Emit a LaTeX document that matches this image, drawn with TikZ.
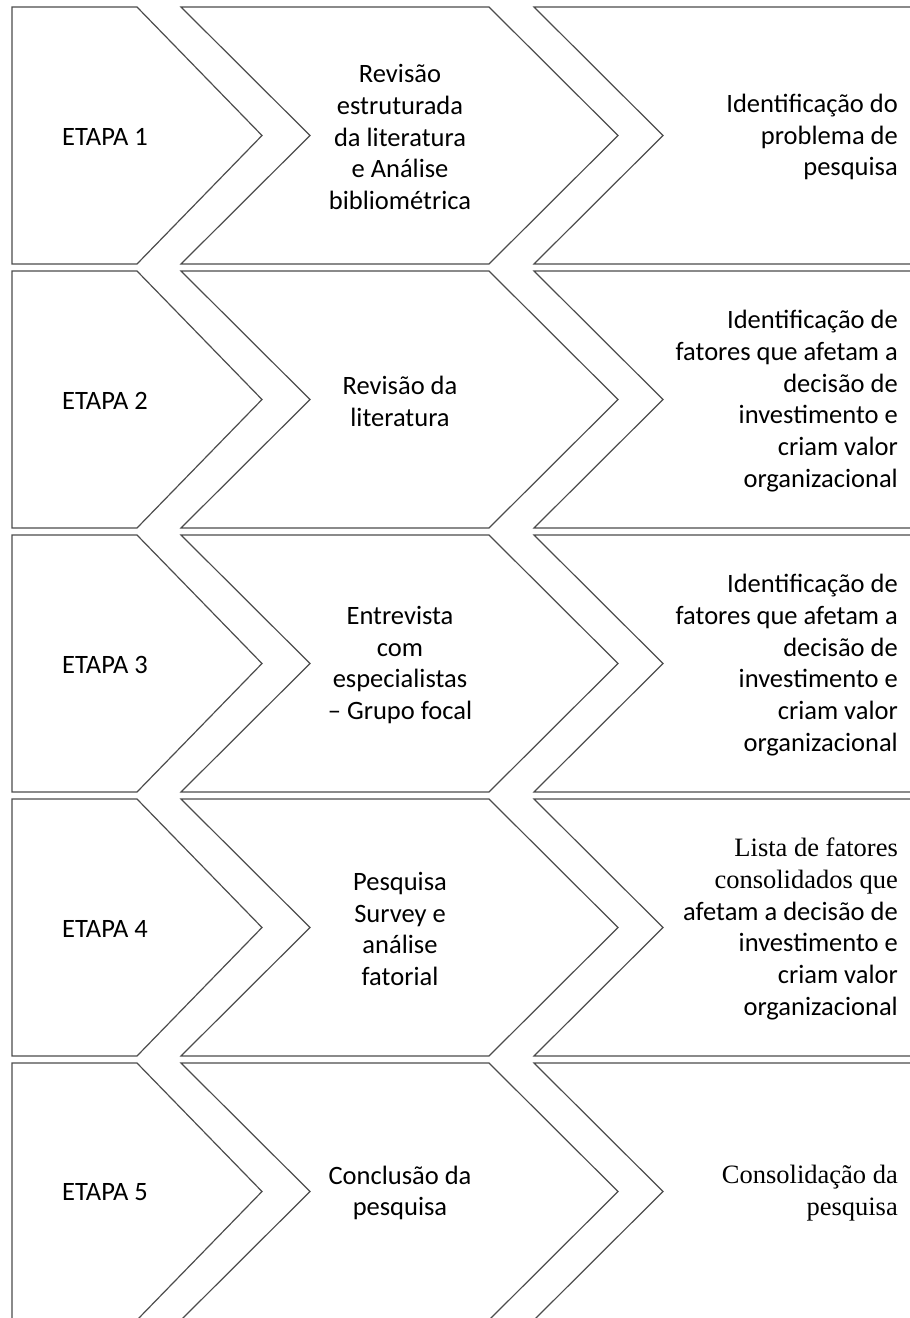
\documentclass[tikz,border=0pt]{standalone}
\usepackage{fontspec}
\setmainfont{Carlito}
\newfontfamily\timesfont{Liberation Serif}

\begin{document}
\begin{tikzpicture}[x=1pt, y=-1pt,
    chevron/.style={draw=black!70, line width=1.2pt, line join=miter},
    steptext/.style={inner sep=0pt, text=black, font=\fontsize{26.5}{31.8}\selectfont}]
    \useasboundingbox (0,0) rectangle (910,1318);
    \clip (0,0) rectangle (910,1318);

    % Chevrons of each step (top T, middle M, bottom B)
    \foreach \r in {1,...,5} {
        \pgfmathsetmacro{\T}{7+264*(\r-1)}
        \pgfmathsetmacro{\M}{\T+128.5}
        \pgfmathsetmacro{\B}{\T+257}
        \draw[chevron] (12,\T) -- (137,\T) -- (262,\M) -- (137,\B) -- (12,\B) -- cycle;
        \draw[chevron] (181,\T) -- (489,\T) -- (618,\M) -- (489,\B) -- (181,\B) -- (310,\M) -- cycle;
        \draw[chevron] (534,\T) -- (930,\T) -- (930,\B) -- (534,\B) -- (663,\M) -- cycle;
        \node[steptext] (etapa\r) at (105,\M+1) {ETAPA \r};
    }

    % Actions
    \node[steptext, align=center] (acao1) at (400,137) {Revisão\\estruturada\\da literatura\\e Análise\\bibliométrica};
    \node[steptext, align=center] (acao2) at (400,401) {Revisão da\\literatura};
    \node[steptext, align=center] (acao3) at (400,665) {Entrevista\\com\\especialistas\\– Grupo focal};
    \node[steptext, align=center] (acao4) at (400,929) {Pesquisa\\Survey e\\análise\\fatorial};
    \node[steptext, align=center] (acao5) at (400,1193) {Conclusão da\\pesquisa};

    % Results
    \node[steptext, align=right, anchor=east] (result1) at (898,137) {Identificação do\\problema de\\pesquisa};
    \node[steptext, align=right, anchor=east] (result2) at (898,401) {Identificação de\\fatores que afetam a\\decisão de\\investimento e\\criam valor\\organizacional};
    \node[steptext, align=right, anchor=east] (result3) at (898,665) {Identificação de\\fatores que afetam a\\decisão de\\investimento e\\criam valor\\organizacional};
    \node[steptext, align=right, anchor=east] (result4) at (898,929) {{\timesfont Lista de fatores}\\{\timesfont consolidados que}\\afetam a decisão de\\investimento e\\criam valor\\organizacional};
    \node[steptext, align=right, anchor=east] (result5) at (898,1193) {{\timesfont Consolidação da}\\{\timesfont pesquisa}};
\end{tikzpicture}
\end{document}
